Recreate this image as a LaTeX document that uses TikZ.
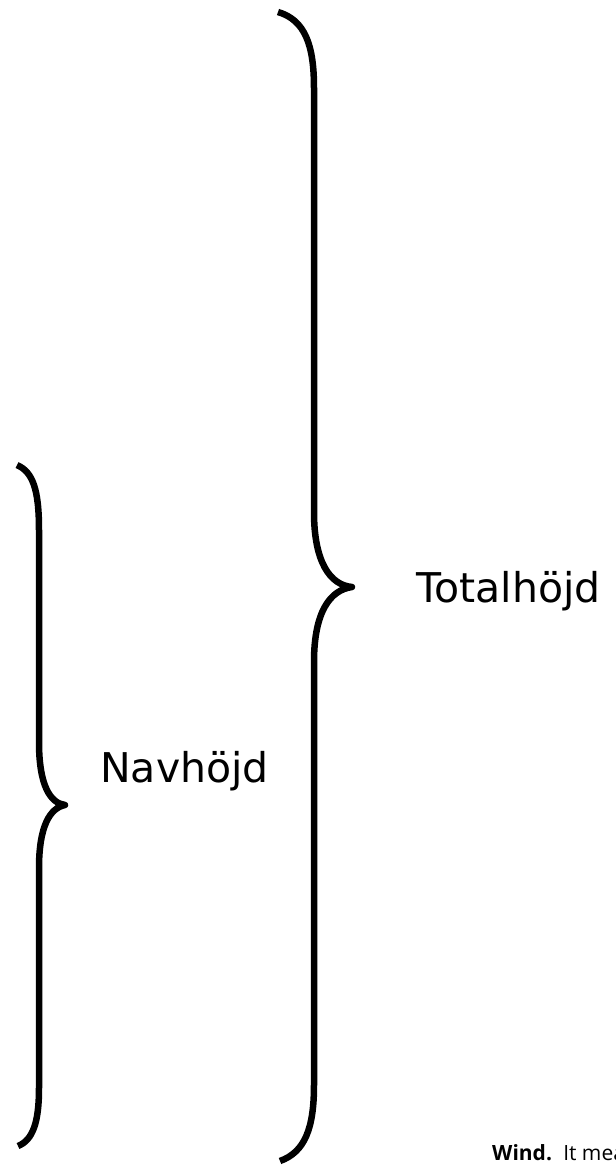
\documentclass[tikz,border=0pt]{standalone}
\usepackage{fontspec}
\setmainfont{DejaVu Sans}
\newfontfamily\notefont{Open Sans}
\usetikzlibrary{positioning}

\begin{document}
\begin{tikzpicture}[
  x=1pt, y=-1pt,
  brace/.style ={draw=black, line width=6.5pt, line join=round},
  lbl/.style   ={anchor=base west, inner sep=0pt, font=\fontsize{41}{49}\selectfont},
  note/.style  ={anchor=base west, inner sep=0pt, font=\notefont\fontsize{21}{25}\selectfont},
]
\useasboundingbox (0,0) rectangle (616,1168);

% ---------- total height ----------
\coordinate (ttop) at (278,12);
\coordinate (ttip) at (352,587);
\coordinate (tbot) at (280,1161);
\draw[brace] (ttop) .. controls (305,20) and (314,45) .. (314,88)
  -- (314,512) .. controls (314,562) and (330,585) .. (ttip)
  .. controls (330,590) and (314,612) .. (314,662)
  -- (314,1085) .. controls (314,1128) and (305,1152) .. (tbot);
\node[lbl] (total) at (416,602) {Totalh\"ojd};

% ---------- hub height ----------
\coordinate (ntop) at (17,465);
\coordinate (ntip) at (65,805);
\coordinate (nbot) at (18,1146);
\draw[brace] (ntop) .. controls (33,472) and (39,490) .. (39,530)
  -- (39,742) .. controls (39,785) and (50,803) .. (ntip)
  .. controls (50,808) and (39,826) .. (39,868)
  -- (39,1088) .. controls (39,1122) and (33,1140) .. (nbot);
\node[lbl] (hub) at (100,782) {Navh\"ojd};

% ---------- cut-off note ----------
\node[note] (wind) at (492,1160) {\textbf{Wind.}\hspace{4pt} It mea};

\end{tikzpicture}
\end{document}
